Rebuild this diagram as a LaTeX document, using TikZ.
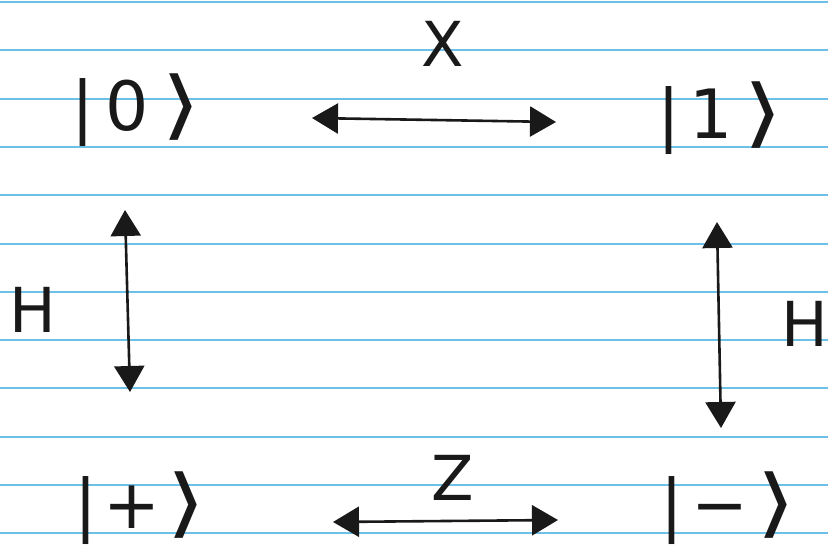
\documentclass[tikz,border=0pt]{standalone}
\usepackage{fontspec}
\setmainfont{DejaVu Sans}
\usetikzlibrary{arrows.meta}
\definecolor{ruleblue}{RGB}{110,192,230}
\definecolor{ink}{RGB}{25,25,25}
\newcommand{\kbra}{\scalebox{1.5}[1.1]{⟩}}
\begin{document}
\begin{tikzpicture}[x=1pt,y=-1pt,
  ket/.style={inner sep=0pt,text=ink,font=\fontsize{68}{68}\selectfont},
  lbl/.style={inner sep=0pt,text=ink,font=\fontsize{62}{62}\selectfont},
  arr/.style={draw=ink,line width=2.6pt,{Triangle[length=26pt,width=30pt]}-{Triangle[length=26pt,width=30pt]}}]
\fill[white] (0,0) rectangle (828,552);
\useasboundingbox (0,0) rectangle (828,552);
\foreach \y in {2,50.3,...,540} \draw[ruleblue,line width=2pt] (0,\y) -- (828,\y);
% states
\node[ket] (k0) at (136,110) {|\hspace{12pt}0\hspace{12pt}\kbra};
\node[ket] (k1) at (720,118) {|\hspace{10pt}1\hspace{10pt}\kbra};
\node[ket] (kp) at (140,508) {|\hspace{6pt}+\hspace{6pt}\kbra};
\node[ket] (km) at (728,508) {|\hspace{8pt}−\hspace{8pt}\kbra};
% gate labels
\node[lbl] (X) at (443,44) {X};
\node[lbl] (Z) at (453,478) {Z};
\node[lbl] (H1) at (33,310) {H};
\node[lbl] (H2) at (805,324) {H};
% arrow ends
\coordinate (xa) at (312,118);
\coordinate (xb) at (556,122);
\coordinate (za) at (333,522);
\coordinate (zb) at (558,520);
\coordinate (ha) at (125,210);
\coordinate (hb) at (130,392);
\coordinate (hc) at (717,222);
\coordinate (hd) at (721,428);
\draw[arr] (xa) -- (xb);
\draw[arr] (za) -- (zb);
\draw[arr] (ha) -- (hb);
\draw[arr] (hc) -- (hd);
\end{tikzpicture}
\end{document}
